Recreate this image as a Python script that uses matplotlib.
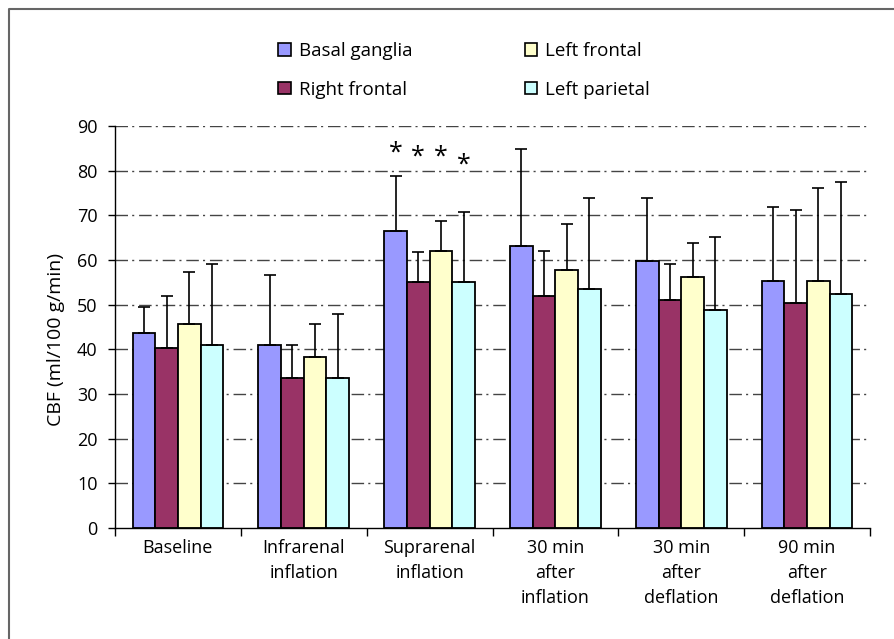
import numpy as np
import matplotlib
matplotlib.use("Agg")
import matplotlib.pyplot as plt
from matplotlib.patches import Patch
from matplotlib.lines import Line2D

plt.rcParams['font.family'] = ['Open Sans', 'DejaVu Sans']

# data
groups = ["Baseline", "Infrarenal\ninflation", "Suprarenal\ninflation",
          "30 min\nafter\ninflation", "30 min\nafter\ndeflation", "90 min\nafter\ndeflation"]
regions = ["Basal ganglia", "Right frontal", "Left frontal", "Left parietal"]
colors = ["#9999FF", "#993366", "#FFFFCC", "#CCFFFF"]

basal = [43.6, 40.9, 66.4, 63.2, 59.7, 55.4]
right_frontal = [40.2, 33.5, 55.1, 51.9, 51.0, 50.4]
left_frontal = [45.6, 38.2, 62.0, 57.7, 56.2, 55.4]
left_parietal = [40.9, 33.5, 55.1, 53.4, 48.7, 52.3]

# upper ends of the error bars
basal_top = [49.5, 56.6, 78.9, 84.8, 73.8, 71.9]
right_frontal_top = [51.9, 40.9, 61.7, 62.0, 59.0, 71.1]
left_frontal_top = [57.4, 45.6, 68.8, 68.0, 63.7, 76.2]
left_parietal_top = [59.0, 48.0, 70.7, 73.8, 65.2, 77.4]

# significance stars (suprarenal group)
star_group = 2
star_y = [84.0, 83.1, 83.1, 81.3]

means = [basal, right_frontal, left_frontal, left_parietal]
tops = [basal_top, right_frontal_top, left_frontal_top, left_parietal_top]

fig = plt.figure(figsize=(8.94, 6.39), dpi=100)
ax = fig.add_axes([115/894, 1 - 528/639, (870 - 115)/894, (528 - 126)/639])

x = np.arange(len(groups))
w = 0.18
offsets = (np.arange(4) - 1.5) * w

for yv in range(10, 100, 10):
    ax.axhline(yv, color="#444444", lw=1.0, dashes=(9, 3, 1.5, 3.5), zorder=0)

for i in range(4):
    m = np.array(means[i])
    t = np.array(tops[i])
    ax.bar(x + offsets[i], m, w, color=colors[i], edgecolor="black", lw=1.3, zorder=2)
    ax.errorbar(x + offsets[i], m, yerr=[np.zeros_like(m), t - m], fmt="none",
                ecolor="black", elinewidth=1.2, capsize=4.5, capthick=1.2, zorder=3)

for i in range(4):
    ax.text(star_group + offsets[i], star_y[i], "*", ha="center", va="center",
            fontsize=18, zorder=4)

ax.set_xlim(-0.5, 5.5)
ax.set_ylim(0, 90)
ax.set_yticks(range(0, 100, 10))
ax.tick_params(axis="y", direction="out", length=5, width=1, labelsize=13, pad=7.5)
ax.set_xticks(x)
ax.set_xticklabels(groups, fontsize=13, linespacing=1.5)
ax.set_xticks(np.arange(-0.5, 6, 1), minor=True)
ax.tick_params(axis="x", which="major", length=0, pad=8)
ax.tick_params(axis="x", which="minor", direction="out", length=6, width=1)
for s in ["top", "right"]:
    ax.spines[s].set_visible(False)
for s in ["left", "bottom"]:
    ax.spines[s].set_linewidth(1)
ax.set_ylabel("CBF (ml/100 g/min)", fontsize=14)
ax.yaxis.set_label_coords(-0.066, 0.468)

handles = [Patch(facecolor=c, edgecolor="black", lw=1.2) for c in colors]
fig.legend(handles, regions, ncol=2, loc="center", bbox_to_anchor=(0.519, 0.890),
           frameon=False, fontsize=13.5, handlelength=0.68, handleheight=0.68,
           handletextpad=0.4, columnspacing=6.0, labelspacing=1.1)

# partial frame round the figure
fig.add_artist(Line2D([9/894, 9/894, 1.0], [0.0, 1 - 9/639, 1 - 9/639],
                      transform=fig.transFigure, color="#666666", lw=1.5))

fig.savefig("out.png", dpi=100)
